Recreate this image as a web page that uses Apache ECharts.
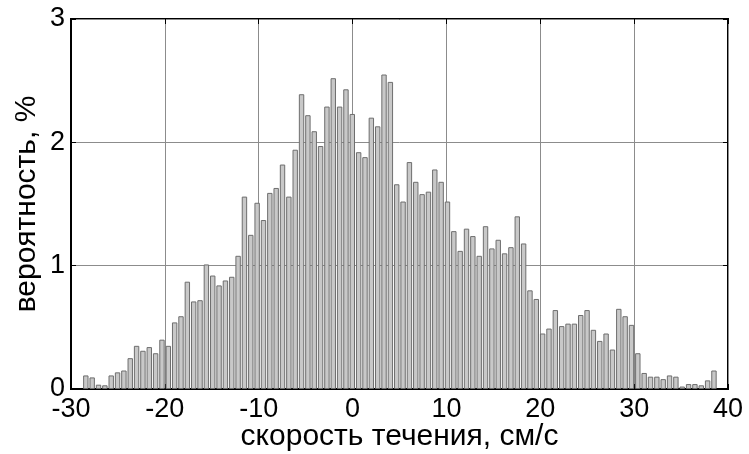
<!DOCTYPE html>
<html><head><meta charset="utf-8">
<script src="https://cdn.jsdelivr.net/npm/echarts@6/dist/echarts.min.js"></script>
<style>html,body{margin:0;padding:0;background:#fff}#c{width:749px;height:454px}</style>
</head><body><div id="c"></div>
<script>
// histogram: 100 bins, first bin centre and bin width (cm/s)
const binStart = -28.42;
const binWidth = 0.676;
const probability = [
  0.11,0.094,0.035,0.03,0.11,0.135,0.15,0.25,0.35,0.31,
  0.34,0.29,0.40,0.35,0.54,0.59,0.87,0.71,0.72,1.01,
  0.92,0.84,0.88,0.91,1.08,1.56,1.25,1.51,1.37,1.59,
  1.63,1.82,1.56,1.94,2.39,2.22,2.09,1.97,2.29,2.52,
  2.29,2.43,2.23,1.92,1.88,2.20,2.13,2.55,2.49,1.66,
  1.52,1.84,1.68,1.58,1.60,1.78,1.68,1.52,1.28,1.12,
  1.30,1.24,1.08,1.32,1.14,1.21,1.10,1.15,1.40,1.18,
  0.80,0.73,0.45,0.49,0.64,0.51,0.53,0.53,0.60,0.64,
  0.48,0.39,0.45,0.32,0.65,0.59,0.52,0.29,0.13,0.10,
  0.10,0.08,0.11,0.10,0.02,0.04,0.04,0.03,0.07,0.15
];
const xTicks = [-30,-20,-10,0,10,20,30,40];
const yTicks = [0,1,2,3];
const xTitle = 'скорость течения, см/с';
const yTitle = 'вероятность, %';

const data = probability.map((v,i)=>[binStart + i*binWidth, v]);
const font = 'Liberation Sans, Arial, sans-serif';
const chart = echarts.init(document.getElementById('c'), null, {renderer:'canvas'});
const xMin = xTicks[0], xMax = xTicks[xTicks.length-1];
const yMin = yTicks[0], yMax = yTicks[yTicks.length-1];
const tick = {show:true, inside:true, length:5, lineStyle:{color:'#000', width:1}};
chart.setOption({
  animation:false,
  grid:{left:71, top:19, width:657, height:370, containLabel:false, outerBoundsMode:'none',
        show:true, borderColor:'#000', borderWidth:2, backgroundColor:'#fff'},
  xAxis:[{
    type:'value', min:xMin, max:xMax, interval:10, position:'bottom',
    name:xTitle, nameLocation:'middle', nameGap:33, nameMoveOverlap:false,
    nameTextStyle:{fontFamily:font, fontSize:30, color:'#000'},
    axisLine:{show:true, onZero:false, lineStyle:{color:'#000', width:2}},
    axisTick:tick,
    axisLabel:{fontFamily:font, fontSize:27, color:'#000', margin:7, showMinLabel:true, showMaxLabel:true},
    splitLine:{show:true, lineStyle:{color:'#8c8c8c', width:1}}
  },{
    type:'value', min:xMin, max:xMax, interval:10, position:'top',
    axisLine:{show:false, onZero:false}, axisTick:tick,
    axisLabel:{show:false}, splitLine:{show:false}
  }],
  yAxis:[{
    type:'value', min:yMin, max:yMax, interval:1, position:'left',
    name:yTitle, nameLocation:'middle', nameGap:29, nameMoveOverlap:false,
    nameTextStyle:{fontFamily:font, fontSize:30, color:'#000'},
    axisLine:{show:true, onZero:false, lineStyle:{color:'#000', width:2}},
    axisTick:tick,
    axisLabel:{fontFamily:font, fontSize:27, color:'#000', margin:6},
    splitLine:{show:true, lineStyle:{color:'#8c8c8c', width:1}}
  },{
    type:'value', min:yMin, max:yMax, interval:1, position:'right',
    axisLine:{show:false, onZero:false}, axisTick:tick,
    axisLabel:{show:false}, splitLine:{show:false}
  }],
  series:[{
    type:'bar', data:data, barWidth:5.4, xAxisIndex:0, yAxisIndex:0,
    itemStyle:{color:'#c8c8c8', borderColor:'#6e6e6e', borderWidth:1}
  }]
});
</script></body></html>
